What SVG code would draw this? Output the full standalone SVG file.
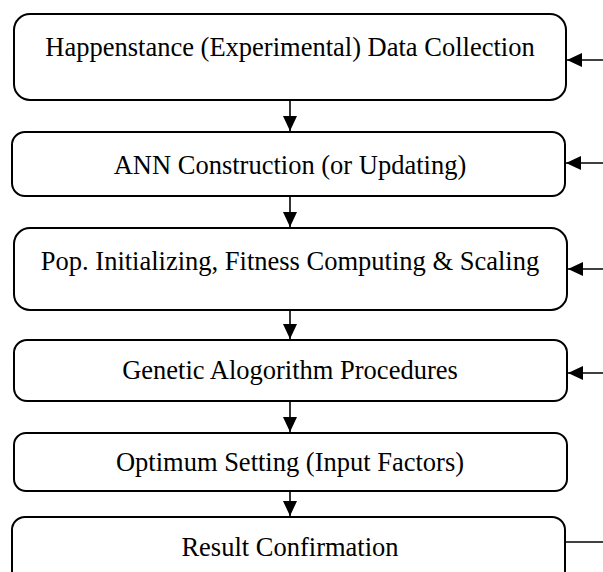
<svg xmlns="http://www.w3.org/2000/svg" width="603" height="572" viewBox="0 0 603 572">
<style>
.box{fill:#fff;stroke:#000;stroke-width:2}
.lbl{font-family:"Liberation Serif","Times New Roman",serif;font-size:26.5px;fill:#000;text-anchor:middle}
.con{stroke:#000;stroke-width:1.6;fill:none}
</style>
<defs>
<marker id="ah" markerUnits="userSpaceOnUse" markerWidth="15" markerHeight="14" viewBox="0 0 15 14" refX="15" refY="7" orient="auto">
<path d="M0,0 L15,7 L0,14 z" fill="#000"/>
</marker>
</defs>
<rect width="603" height="572" fill="#fff"/>
<g id="n1"><rect class="box" x="14" y="14" width="552" height="86" rx="16"/><text class="lbl" x="290" y="56">Happenstance (Experimental) Data Collection</text></g>
<g id="n2"><rect class="box" x="12" y="132" width="553" height="64" rx="13"/><text class="lbl" x="290" y="174">ANN Construction (or Updating)</text></g>
<g id="n3"><rect class="box" x="14" y="228" width="553" height="82" rx="16"/><text class="lbl" x="290" y="270">Pop. Initializing, Fitness Computing &amp; Scaling</text></g>
<g id="n4"><rect class="box" x="14" y="340" width="553" height="61" rx="13"/><text class="lbl" x="290" y="379">Genetic Alogorithm Procedures</text></g>
<g id="n5"><rect class="box" x="14" y="433" width="553" height="58" rx="12"/><text class="lbl" x="290" y="471">Optimum Setting (Input Factors)</text></g>
<g id="n6"><rect class="box" x="12" y="517" width="553" height="72" rx="13"/><text class="lbl" x="290" y="556">Result Confirmation</text></g>
<g id="connectors">
<line class="con" x1="290" y1="101" x2="290" y2="131" marker-end="url(#ah)"/>
<line class="con" x1="290" y1="197" x2="290" y2="227" marker-end="url(#ah)"/>
<line class="con" x1="290" y1="311" x2="290" y2="339" marker-end="url(#ah)"/>
<line class="con" x1="290" y1="402" x2="290" y2="432" marker-end="url(#ah)"/>
<line class="con" x1="290" y1="492" x2="290" y2="516" marker-end="url(#ah)"/>
<line class="con" x1="603" y1="60" x2="567" y2="60" marker-end="url(#ah)"/>
<line class="con" x1="603" y1="163" x2="566" y2="163" marker-end="url(#ah)"/>
<line class="con" x1="603" y1="269" x2="568" y2="269" marker-end="url(#ah)"/>
<line class="con" x1="603" y1="373" x2="568" y2="373" marker-end="url(#ah)"/>
<line class="con" x1="565" y1="542" x2="603" y2="542"/>
</g>
</svg>
